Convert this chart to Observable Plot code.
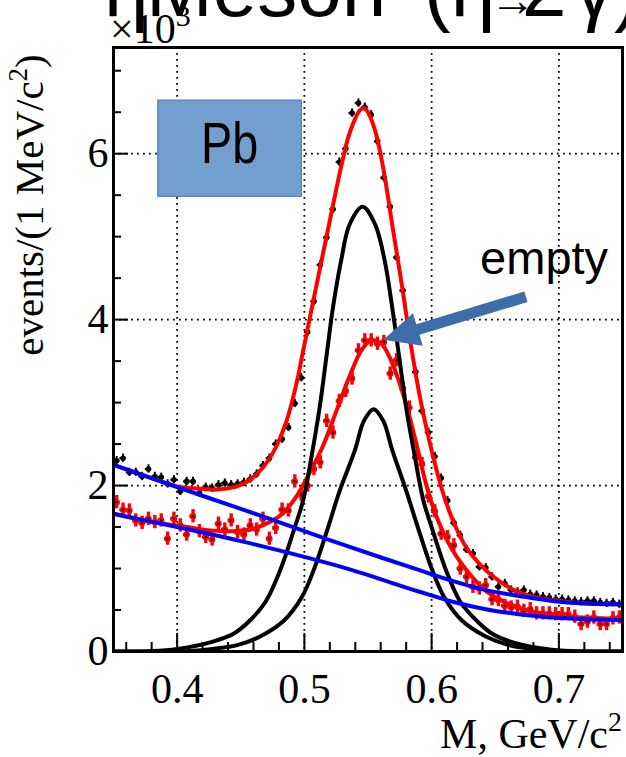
<!DOCTYPE html>
<html><head><meta charset="utf-8">
<script src="https://cdn.jsdelivr.net/npm/d3@7"></script>
<script src="https://cdn.jsdelivr.net/npm/@observablehq/plot@0.6"></script>
<style>html,body{margin:0;padding:0;background:#fff;overflow:hidden}</style>
</head><body><div id="chart"></div>
<script>
// ---- data (values in units of 10^3 events per 1 MeV/c^2) ----
const massBins = [0.3525,0.3575,0.3625,0.3675,0.3725,0.3775,0.3825,0.3875,0.3925,0.3975,
  0.4025,0.4075,0.4125,0.4175,0.4225,0.4275,0.4325,0.4375,0.4425,0.4475,
  0.4525,0.4575,0.4625,0.4675,0.4725,0.4775,0.4825,0.4875,0.4925,0.4975,
  0.5025,0.5075,0.5125,0.5175,0.5225,0.5275,0.5325,0.5375,0.5425,0.5475,
  0.5525,0.5575,0.5625,0.5675,0.5725,0.5775,0.5825,0.5875,0.5925,0.5975,
  0.6025,0.6075,0.6125,0.6175,0.6225,0.6275,0.6325,0.6375,0.6425,0.6475,
  0.6525,0.6575,0.6625,0.6675,0.6725,0.6775,0.6825,0.6875,0.6925,0.6975,
  0.7025,0.7075,0.7125,0.7175,0.7225,0.7275,0.7325,0.7375,0.7425,0.7475];
const pbCounts = [2.30,2.33,2.16,2.16,2.11,2.20,2.11,2.10,2.02,2.07,
  1.93,2.05,2.05,1.91,1.98,1.97,2.01,2.03,2.01,2.02,
  2.04,2.08,2.14,2.24,2.33,2.50,2.56,2.70,2.99,3.30,
  3.85,4.22,4.66,4.99,5.33,5.90,6.06,6.49,6.61,6.56,
  6.47,6.15,5.71,5.36,4.75,4.35,3.85,3.37,2.90,2.64,
  2.35,2.09,1.82,1.55,1.40,1.23,1.18,1.02,1.01,0.90,
  0.78,0.82,0.74,0.72,0.74,0.69,0.68,0.66,0.65,0.63,
  0.63,0.62,0.61,0.60,0.61,0.61,0.59,0.58,0.59,0.57];
const emptyCounts = [1.80,1.71,1.70,1.58,1.55,1.60,1.56,1.58,1.36,1.60,
  1.52,1.41,1.63,1.45,1.38,1.35,1.54,1.47,1.58,1.44,
  1.41,1.52,1.47,1.60,1.36,1.49,1.71,1.70,2.05,1.89,
  2.00,2.20,2.28,2.78,2.64,3.02,3.14,3.29,3.63,3.75,
  3.75,3.71,3.73,3.35,3.51,3.17,2.94,2.34,2.26,1.87,
  1.69,1.42,1.38,1.28,1.00,0.90,0.78,0.76,0.80,0.63,
  0.62,0.55,0.53,0.54,0.49,0.51,0.46,0.46,0.46,0.45,
  0.45,0.45,0.42,0.33,0.36,0.41,0.33,0.33,0.40,0.41];
const pbErr = 0.05, emptyErr = 0.08, halfBin = 0.0025;

// fitted curves: [mass, value]
const pbFit = [[0.35,2.25],[0.38,2.09],[0.40,1.99],[0.41,1.97],[0.4207,1.96],[0.4285,1.95],[0.4364,1.96],
  [0.4469,1.99],[0.4573,2.07],[0.4664,2.20],[0.4755,2.40],[0.486,2.78],[0.4938,3.23],[0.499,3.62],
  [0.5056,4.12],[0.5147,4.80],[0.5225,5.38],[0.529,5.85],[0.5356,6.25],[0.5434,6.52],[0.5465,6.55],
  [0.5487,6.53],[0.5552,6.30],[0.5617,5.85],[0.5695,5.10],[0.5773,4.35],[0.5826,3.80],[0.5904,3.10],
  [0.5982,2.54],[0.6047,2.14],[0.61,1.86],[0.6178,1.54],[0.627,1.26],[0.6374,1.06],[0.6505,0.88],
  [0.6661,0.73],[0.6818,0.65],[0.70,0.61],[0.7209,0.58],[0.75,0.57]];
const emptyFit = [[0.35,1.66],[0.38,1.56],[0.4077,1.50],[0.426,1.46],[0.4442,1.45],[0.4599,1.48],
  [0.4729,1.56],[0.4834,1.67],[0.4938,1.87],[0.5043,2.16],[0.5147,2.48],[0.5252,2.90],[0.5356,3.32],
  [0.5448,3.63],[0.5526,3.75],[0.5604,3.71],[0.5669,3.55],[0.5722,3.35],[0.58,2.98],[0.5878,2.52],
  [0.5956,2.02],[0.6035,1.64],[0.6165,1.22],[0.6296,0.94],[0.6426,0.73],[0.6583,0.59],[0.6765,0.49],
  [0.70,0.43],[0.7209,0.41],[0.75,0.39]];
const pbSignal = [[0.35,0],[0.38,0.005],[0.40,0.03],[0.426,0.11],[0.444,0.21],[0.457,0.37],[0.4695,0.60],
  [0.481,0.98],[0.4925,1.50],[0.499,1.82],[0.5056,2.35],[0.512,2.94],[0.5173,3.55],[0.5225,4.15],
  [0.529,4.72],[0.5356,5.15],[0.5458,5.36],[0.5555,5.15],[0.563,4.72],[0.5690,4.15],[0.5745,3.55],
  [0.58,2.94],[0.5868,2.35],[0.5935,1.82],[0.6000,1.50],[0.6113,0.98],[0.6225,0.60],[0.6355,0.37],
  [0.648,0.21],[0.666,0.10],[0.69,0.03],[0.71,0.005],[0.75,0]];
const emptySignal = [[0.35,0],[0.41,0.005],[0.428,0.03],[0.448,0.08],[0.4652,0.18],[0.4838,0.37],
  [0.4978,0.65],[0.5078,1.00],[0.5187,1.50],[0.5278,1.94],[0.5396,2.42],[0.5468,2.78],[0.5544,2.92],
  [0.562,2.78],[0.5692,2.42],[0.58,1.94],[0.5891,1.50],[0.60,1.00],[0.61,0.65],[0.624,0.37],
  [0.6426,0.18],[0.66,0.08],[0.68,0.03],[0.70,0.005],[0.75,0]];
const pbBackground = [[0.35,2.25],[0.40,1.98],[0.45,1.72],[0.50,1.45],[0.5356,1.26],[0.5904,0.98],
  [0.6165,0.85],[0.6426,0.74],[0.6687,0.67],[0.6948,0.61],[0.7209,0.58],[0.75,0.57]];
const emptyBackground = [[0.35,1.66],[0.40,1.50],[0.45,1.33],[0.50,1.14],[0.5356,0.99],[0.5904,0.72],
  [0.6165,0.60],[0.6426,0.51],[0.6687,0.45],[0.6948,0.41],[0.7209,0.39],[0.75,0.38]];

const xMajor = [0.4,0.5,0.6,0.7];
const xMinor = [0.36,0.38,0.42,0.44,0.46,0.48,0.52,0.54,0.56,0.58,0.62,0.64,0.66,0.68,0.72,0.74];
const yMajor = [0,2,4,6];
const yMinor = [0.5,1,1.5,2.5,3,3.5,4.5,5,5.5,6.5,7];
const xTickLabels = ["0.4","0.5","0.6","0.7"];
const yTickLabels = ["0","2","4","6"];

// ---- build ----
const W = 626, H = 757, mL = 113, mR = 4, mT = 47, mB = 106;
const frameW = W - mL - mR, frameH = H - mT - mB;
const pb = massBins.map((x, i) => ({x, y: pbCounts[i]}));
const em = massBins.map((x, i) => ({x, y: emptyCounts[i]}));
const serif = "'Liberation Serif','Times New Roman',serif";
const sans = "'Liberation Sans',Arial,sans-serif";
const curve = (pts, stroke) => Plot.line(pts, {x: d => d[0], y: d => d[1], stroke, strokeWidth: 4, curve: "catmull-rom", clip: true});

const plot = Plot.plot({
  width: W, height: H, marginLeft: mL, marginRight: mR, marginTop: mT, marginBottom: mB,
  x: {domain: [0.35, 0.75], axis: null},
  y: {domain: [0, 7.28], axis: null},
  style: {background: "white", fontFamily: serif, overflow: "visible"},
  marks: [
    Plot.ruleX(xMajor, {stroke: "black", strokeWidth: 1.8, strokeDasharray: "1.8,4.2"}),
    Plot.ruleY(yMajor.filter(d => d > 0), {stroke: "black", strokeWidth: 1.8, strokeDasharray: "1.8,4.2"}),
    // Pb data (black)
    Plot.ruleX(pb, {x: "x", y1: d => d.y - pbErr, y2: d => d.y + pbErr, stroke: "black", strokeWidth: 2}),
    Plot.ruleY(pb, {y: "y", x1: d => d.x - halfBin, x2: d => d.x + halfBin, stroke: "black", strokeWidth: 2}),
    Plot.dot(pb, {x: "x", y: "y", r: 2.8, fill: "black"}),
    // empty data (red)
    Plot.ruleX(em, {x: "x", y1: d => d.y - emptyErr, y2: d => d.y + emptyErr, stroke: "red", strokeWidth: 3.4}),
    Plot.ruleY(em, {y: "y", x1: d => d.x - halfBin, x2: d => d.x + halfBin, stroke: "red", strokeWidth: 3.4}),
    Plot.dot(em, {x: "x", y: "y", r: 3.2, fill: "red"}),
    Plot.dot(em, {x: "x", y: "y", r: 1.2, fill: "black"}),
    // fits
    curve(pbFit, "red"),
    curve(emptyFit, "red"),
    curve(pbSignal, "black"),
    curve(emptySignal, "black"),
    curve(pbBackground, "blue"),
    curve(emptyBackground, "blue"),
    // ticks inside the frame
    Plot.tickX(xMajor, {x: d => d, stroke: "black", strokeWidth: 2, insetTop: frameH - 18}),
    Plot.tickX(xMinor, {x: d => d, stroke: "black", strokeWidth: 2, insetTop: frameH - 9}),
    Plot.tickY(yMajor, {y: d => d, stroke: "black", strokeWidth: 2, insetRight: frameW - 15}),
    Plot.tickY(yMinor, {y: d => d, stroke: "black", strokeWidth: 2, insetRight: frameW - 8}),
    Plot.frame({stroke: "black", strokeWidth: 3}),
    // tick labels
    Plot.text(xMajor, {x: d => d, frameAnchor: "bottom", text: (d, i) => xTickLabels[i], dy: 51, lineAnchor: "bottom", textAnchor: "middle", fontSize: 42, fill: "black"}),
    Plot.text(yMajor, {y: d => d, frameAnchor: "left", text: (d, i) => yTickLabels[i], dx: -5, lineAnchor: "middle", textAnchor: "end", fontSize: 42, fill: "black"})
  ]
});
document.getElementById("chart").appendChild(plot);

const sx = plot.scale("x").apply, sy = plot.scale("y").apply;
const svg = d3.select(plot);

// Pb box
const bx1 = sx(0.3852), bx2 = sx(0.498), by1 = sy(6.64), by2 = sy(5.48);
svg.append("rect").attr("x", bx1).attr("y", by1).attr("width", bx2 - bx1).attr("height", by2 - by1)
  .attr("fill", "#729fcf").attr("stroke", "#4f7fb8").attr("stroke-width", 1.2);
svg.append("text").attr("transform", `translate(${(bx1 + bx2) / 2},${sy(5.88)}) scale(0.82,1)`)
  .attr("text-anchor", "middle").attr("font-family", sans).attr("font-size", 57).attr("fill", "black").text("Pb");

// "empty" label and arrow
svg.append("text").attr("x", sx(0.6385)).attr("y", sy(4.55)).attr("text-anchor", "start").attr("font-family", sans)
  .attr("font-size", 47).attr("fill", "black").text("empty");
{
  const tx = sx(0.5625), ty = sy(3.75), ex = sx(0.6745), ey = sy(4.27);
  const dx = ex - tx, dy = ey - ty, L = Math.hypot(dx, dy), ux = dx / L, uy = dy / L, nx = -uy, ny = ux;
  const hl = 36, hw = 17, sw = 5.5;
  const p = (a, b) => `${tx + ux * a + nx * b},${ty + uy * a + ny * b}`;
  svg.append("polygon").attr("points", [p(0, 0), p(hl, hw), p(hl, sw), p(L, sw), p(L, -sw), p(hl, -sw), p(hl, -hw)].join(" "))
    .attr("fill", "#3e6ea8");
}

// header (cropped at the top edge, as in the source), exponent, axis titles
svg.append("text").attr("y", 16).attr("text-anchor", "start").attr("font-family", sans).attr("font-size", 80).attr("fill", "black")
  .html('<tspan x="104">η</tspan><tspan x="146">Meson</tspan><tspan x="424">(η</tspan><tspan x="490" font-size="46">→</tspan><tspan x="522">2</tspan><tspan x="574">γ)</tspan>');
svg.append("text").attr("x", 110).attr("y", 43).attr("text-anchor", "start").attr("font-family", serif).attr("font-size", 42).attr("fill", "black")
  .html('×10<tspan dy="-17" font-size="30">3</tspan>');
svg.append("text").attr("transform", "translate(43,205) rotate(-90)").attr("text-anchor", "middle")
  .attr("font-family", serif).attr("font-size", 41).attr("fill", "black")
  .html('events/(1 MeV/c<tspan dy="-16" font-size="27">2</tspan><tspan dy="16">)</tspan>');
svg.append("text").attr("x", 622).attr("y", 748).attr("text-anchor", "end")
  .attr("font-family", serif).attr("font-size", 42).attr("fill", "black")
  .html('M, GeV/c<tspan dy="-17" font-size="28">2</tspan>');
</script></body></html>
